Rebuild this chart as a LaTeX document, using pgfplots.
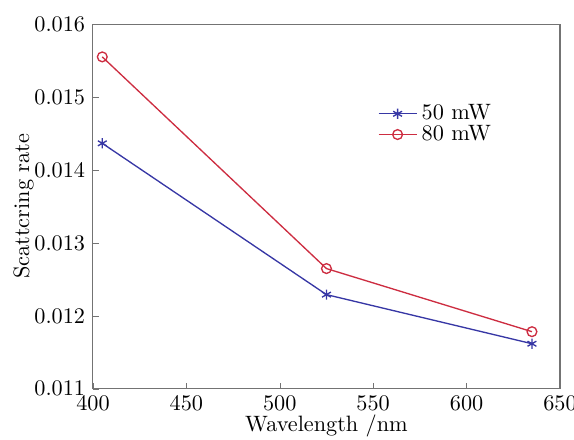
\documentclass[border=0pt]{standalone}
\usepackage{pgfplots}
\pgfplotsset{compat=1.18}
\definecolor{sblue}{RGB}{55,55,165}
\definecolor{sred}{RGB}{205,45,65}
\begin{document}
\begin{tikzpicture}
\begin{axis}[
  scale only axis, width=210pt, height=164pt,
  xmin=400, xmax=650, ymin=0.011, ymax=0.016,
  xtick={400,450,...,650},
  ytick={0.011,0.012,0.013,0.014,0.015,0.016},
  scaled y ticks=false,
  yticklabel style={/pgf/number format/.cd, fixed, fixed zerofill, precision=3},
  tick align=inside, tick pos=left,
  major tick length=2.5pt,
  axis line style={draw=black!55, line width=0.5pt},
  tick style={draw=black!55},
  xlabel={Wavelength /nm}, ylabel={Scattcring rate},
  xlabel style={yshift=5pt}, ylabel style={yshift=-6.5pt},
  legend style={draw=none, fill=none, at={(0.595,0.805)}, anchor=north west,
    row sep=-3pt},
  legend cell align=left,
]
\addplot[sblue, line width=0.6pt, mark=asterisk, mark size=2.3pt]
  coordinates {(405,0.014365)(525,0.012291)(635,0.011618)};
\addlegendentry{50 mW}
\addplot[sred, line width=0.6pt, mark=o, mark size=2.2pt]
  coordinates {(405,0.015550)(525,0.012648)(635,0.011783)};
\addlegendentry{80 mW}
\coordinate (bl) at (rel axis cs:-0.199,-0.138);
\coordinate (tr) at (rel axis cs:1.030,1.066);
\end{axis}
\pgfresetboundingbox
\useasboundingbox (bl) rectangle (tr);
\end{tikzpicture}
\end{document}
